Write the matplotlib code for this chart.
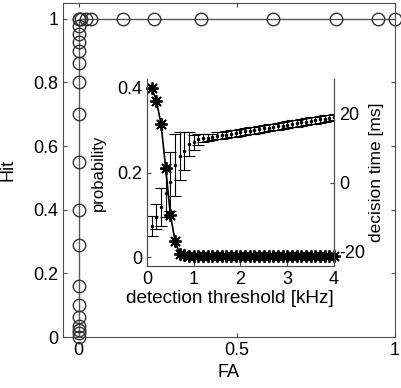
import numpy as np
import matplotlib
matplotlib.use('Agg')
import matplotlib.pyplot as plt

plt.rcParams['font.family'] = ['Liberation Sans', 'DejaVu Sans']
plt.rcParams['axes.unicode_minus'] = False

# ROC curve (main axes)
fa = [0, 0, 0, 0, 0, 0, 0, 0, 0, 0, 0, 0, 0, 0, 0, 0, 0, 0, 0,
      0.008, 0.022, 0.04, 0.14, 0.237, 0.388, 0.613, 0.813, 0.945, 1.0]
hit = [0.001, 0.012, 0.022, 0.035, 0.062, 0.10, 0.16, 0.289, 0.40, 0.549,
       0.70, 0.80, 0.861, 0.90, 0.927, 0.952, 0.976, 1.0, 1.0,
       1.0, 1.0, 1.0, 1.0, 1.0, 1.0, 1.0, 1.0, 1.0, 1.0]

# inset: detection threshold sweep
thresholds = np.arange(1, 41) / 10.0
probability = [0.40, 0.37, 0.315, 0.21, 0.10, 0.038, 0.008, 0.004, 0.003, 0.002,
               0.002, 0.002, 0.002, 0.002, 0.002, 0.002, 0.002, 0.002, 0.002, 0.002,
               0.002, 0.002, 0.002, 0.002, 0.002, 0.002, 0.002, 0.002, 0.002, 0.002,
               0.002, 0.002, 0.002, 0.002, 0.002, 0.002, 0.002, 0.002, 0.002, 0.002]
dec_time = [-12.6, -9.9, -7.0, -3.0, 0.2, 5.1, 7.7, 9.1, 11.1, 11.7,
            12.5, 12.8, 13.0, 13.2, 13.5, 13.7, 13.9, 14.1, 14.3, 14.6,
            14.8, 15.0, 15.2, 15.4, 15.7, 15.9, 16.1, 16.3, 16.5, 16.8,
            17.0, 17.2, 17.4, 17.6, 17.9, 18.1, 18.3, 18.5, 18.7, 19.0]
dec_err = [2.8, 3.6, 5.5, 7.0, 8.5, 9.0, 7.0, 5.5, 3.5, 2.2,
           1.5, 1.2, 1.0, 1.0, 1.0, 1.0, 1.0, 1.0, 1.0, 1.0,
           1.0, 1.0, 1.0, 1.0, 1.0, 1.0, 1.0, 1.0, 1.0, 1.0,
           1.0, 1.0, 1.0, 1.0, 1.0, 1.0, 1.0, 1.0, 1.0, 1.0]

spine_col = '0.3'
fs = 13

fig = plt.figure(figsize=(4.02, 3.88), dpi=100)
ax = fig.add_axes([0.1567, 0.1314, 0.8259, 0.861])
ax.plot(fa, hit, '-o', color='0.35', mfc='none', mec='0.2', ms=9, lw=1, clip_on=False)
ax.set_xlim(-0.05, 1)
ax.set_ylim(0, 1.05)
ax.set_xticks([0, 0.5, 1])
ax.set_xticklabels(['0', '0.5', '1'])
ax.set_yticks([0, 0.2, 0.4, 0.6, 0.8, 1])
ax.set_yticklabels(['0', '0.2', '0.4', '0.6', '0.8', '1'])
ax.set_xlabel('FA', fontsize=fs)
ax.set_ylabel('Hit', fontsize=fs)
ax.yaxis.set_label_coords(-0.14, 0.5)
ax.tick_params(direction='in', top=True, right=True, labelsize=fs, length=3, color=spine_col)
for s in ax.spines.values():
    s.set_color(spine_col)

# inset
axi = fig.add_axes([0.3657, 0.3144, 0.465, 0.482])
axi.patch.set_alpha(0)
axi.plot(thresholds, probability, '-', color='k', lw=1.2, clip_on=False)
axi.plot(thresholds, probability, linestyle='none', marker=(8, 2, 0), color='k',
         ms=9, mew=1.3, clip_on=False)
axi.set_xlim(0, 4)
axi.set_ylim(-0.0213, 0.4213)
axi.set_xticks([0, 1, 2, 3, 4])
axi.set_yticks([0, 0.2, 0.4])
axi.set_yticklabels(['0', '0.2', '0.4'])
axi.set_xlabel('detection threshold [kHz]', fontsize=13.7)
axi.xaxis.set_label_coords(0.445, -0.13)
axi.set_ylabel('probability', fontsize=12, labelpad=8)
axi.tick_params(direction='in', labelsize=fs, length=3, color=spine_col)
axi.spines['top'].set_visible(False)
for s in ['left', 'bottom', 'right']:
    axi.spines[s].set_color(spine_col)

axr = axi.twinx()
axr.errorbar(thresholds, dec_time, yerr=dec_err, fmt='.', color='k', ms=3,
             ecolor='k', elinewidth=0.8, capsize=4, capthick=0.8)
axr.set_ylim(-24.2, 30)
axr.set_yticks([-20, 0, 20])
axr.set_ylabel('decision time [ms]', fontsize=12.5, labelpad=3)
axr.tick_params(direction='in', labelsize=fs, length=3, color=spine_col)
axr.spines['top'].set_visible(False)
for s in ['left', 'bottom', 'right']:
    axr.spines[s].set_color(spine_col)

fig.savefig('out.png', dpi=100)
